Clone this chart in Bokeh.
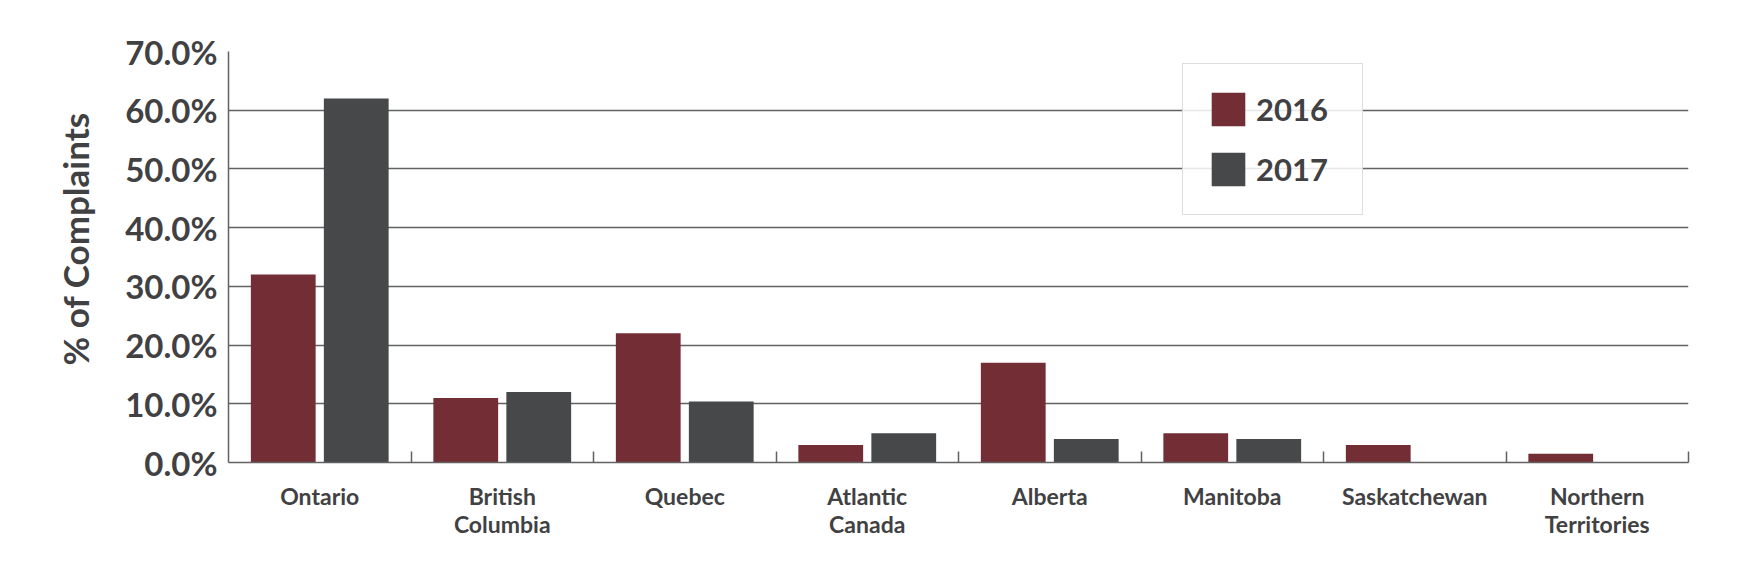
import numpy as np
from bokeh.plotting import figure
from bokeh.models import FixedTicker, PrintfTickFormatter, Legend, LegendItem, Range1d, Title
from bokeh.embed import file_html
from bokeh.resources import INLINE

categories = ["Ontario", "British\nColumbia", "Quebec", "Atlantic\nCanada",
              "Alberta", "Manitoba", "Saskatchewan", "Northern\nTerritories"]
values_2016 = [32.0, 11.0, 22.0, 3.0, 17.0, 5.0, 3.0, 1.5]
values_2017 = [62.0, 12.0, 10.4, 5.0, 4.0, 4.0, 0.0, 0.0]
series_names = ["2016", "2017"]
y_ticks = [0, 10, 20, 30, 40, 50, 60, 70]
y_title = "% of Complaints"

C16 = "#722E34"
C17 = "#47484A"
TXT = "#414143"
GRID = "#626262"
FONT = "Lato"

n = len(categories)
centers = np.arange(n) + 0.5

p = figure(width=1736, height=560, output_backend="svg", toolbar_location=None,
           x_range=Range1d(0, n), y_range=Range1d(0, 70))
p.min_border_left = 228
p.min_border_right = 48
p.min_border_top = 51
p.min_border_bottom = 98
p.outline_line_color = None
p.background_fill_color = "white"
p.border_fill_color = "white"

r16 = p.vbar(x=centers - 0.2, top=values_2016, width=0.355, fill_color=C16, line_color=None)
r17 = p.vbar(x=centers + 0.2, top=values_2017, width=0.355, fill_color=C17, line_color=None)

# y axis
p.yaxis.ticker = FixedTicker(ticks=y_ticks)
p.yaxis.formatter = PrintfTickFormatter(format="%.1f%%")
p.yaxis.major_tick_line_color = None
p.yaxis.minor_tick_line_color = None
p.yaxis.axis_line_color = GRID
p.yaxis.axis_line_width = 1.5
p.yaxis.major_label_text_font = FONT
p.yaxis.major_label_text_font_style = "bold"
p.yaxis.major_label_text_font_size = "33px"
p.yaxis.major_label_text_color = TXT
p.yaxis.major_label_standoff = 5

# y title as a side title, positioned as in the reference (slightly above centre)
y_title_obj = Title(text=y_title, align="left", offset=97, standoff=54,
                    text_font=FONT, text_font_style="bold", text_font_size="35px",
                    text_color=TXT)
p.add_layout(y_title_obj, "left")

p.ygrid.ticker = FixedTicker(ticks=y_ticks)
p.ygrid.grid_line_color = GRID
p.ygrid.grid_line_width = 1.5
p.xgrid.grid_line_color = None

# x axis
p.xaxis.ticker = FixedTicker(ticks=list(centers), minor_ticks=list(range(1, n + 1)))
p.xaxis.major_label_overrides = {float(c): lab for c, lab in zip(centers, categories)}
p.xaxis.major_tick_line_color = None
p.xaxis.minor_tick_line_color = GRID
p.xaxis.minor_tick_line_width = 1.5
p.xaxis.minor_tick_in = 11
p.xaxis.minor_tick_out = 0
p.xaxis.axis_line_color = GRID
p.xaxis.axis_line_width = 1.5
p.xaxis.major_label_text_font = FONT
p.xaxis.major_label_text_font_style = "bold"
p.xaxis.major_label_text_font_size = "23px"
p.xaxis.major_label_text_color = TXT
p.xaxis.major_label_text_line_height = 1.0
p.xaxis.major_label_standoff = 13

legend = Legend(items=[LegendItem(label=series_names[0], renderers=[r16]),
                       LegendItem(label=series_names[1], renderers=[r17])],
                location=(954, 247))
legend.label_text_font = FONT
legend.label_text_font_style = "bold"
legend.label_text_font_size = "31px"
legend.label_text_color = TXT
legend.glyph_width = 42
legend.glyph_height = 42
legend.label_height = 42
legend.label_width = 82
legend.label_standoff = 7
legend.spacing = 18
legend.padding = 24
legend.margin = 0
legend.border_line_color = "#BBBBBB"
legend.border_line_width = 1
legend.background_fill_color = "white"
legend.background_fill_alpha = 0.85
p.add_layout(legend)

open("out.html", "w").write(file_html(p, INLINE))
